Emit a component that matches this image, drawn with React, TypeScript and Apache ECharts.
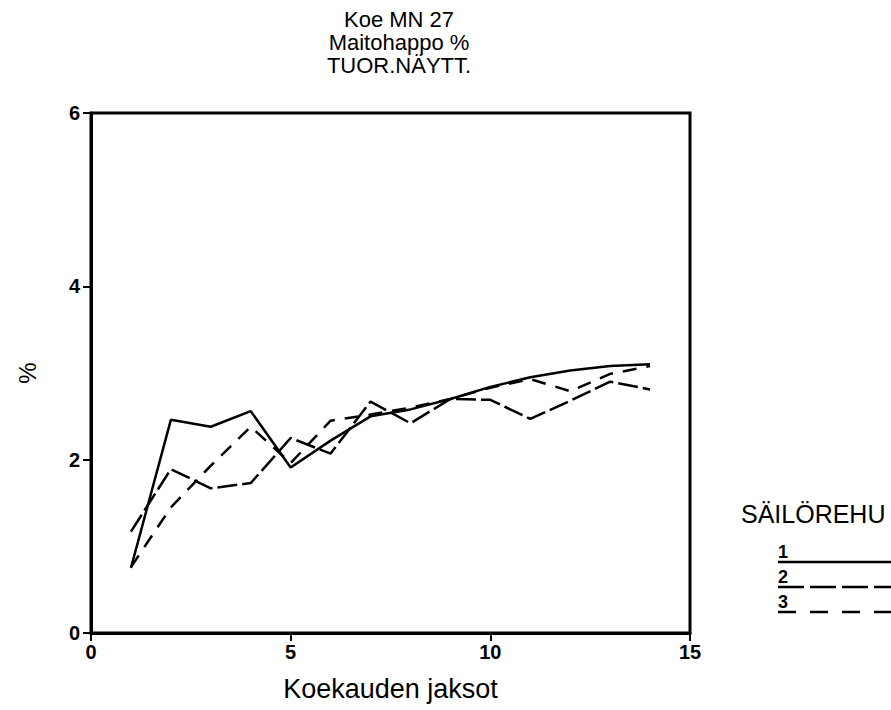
import React, { useEffect, useRef } from "react";
import * as echarts from "echarts";

const periods = [1, 2, 3, 4, 5, 6, 7, 8, 9, 10, 11, 12, 13, 14];
const series1 = [0.75, 2.46, 2.38, 2.56, 1.91, 2.22, 2.5, 2.58, 2.7, 2.84, 2.95, 3.03, 3.08, 3.1];
const series2 = [1.17, 1.89, 1.67, 1.73, 2.25, 2.07, 2.67, 2.42, 2.7, 2.69, 2.47, 2.68, 2.9, 2.81];
const series3 = [0.76, 1.45, 1.93, 2.38, 1.96, 2.45, 2.52, 2.6, 2.7, 2.83, 2.93, 2.79, 2.99, 3.08];
const seriesNames = ["1", "2", "3"];
const titleLines = ["Koe MN 27", "Maitohappo %", "TUOR.NÄYTT."];
const legendTitle = "SÄILÖREHU";
const xAxisName = "Koekauden jaksot";
const yAxisName = "%";

const FONT = "Liberation Sans";
const plotDashes: any[] = ["solid", [20, 5], [14, 10]];
const legendDashes: any[] = [null, [26, 6], [18, 14]];

export default function App() {
  const ref = useRef<HTMLDivElement>(null);
  useEffect(() => {
    if (!ref.current) return;
    const chart = echarts.init(ref.current, null, { renderer: "svg" });
    const allSeries = [series1, series2, series3];
    const legendGraphics: any[] = [
      {
        type: "text",
        left: 741,
        top: 501,
        style: { text: legendTitle, fontFamily: FONT, fontSize: 25, fill: "#000" },
      },
    ];
    seriesNames.forEach((n, i) => {
      const y = 562 + i * 25;
      legendGraphics.push({
        type: "text",
        left: 778,
        top: y - 19,
        style: { text: n, fontFamily: FONT, fontSize: 18, fontWeight: "bold", fill: "#000" },
      });
      legendGraphics.push({
        type: "line",
        shape: { x1: 778, y1: y, x2: 891, y2: y },
        style: { stroke: "#000", lineWidth: 2.5, lineDash: legendDashes[i] },
      });
    });
    chart.setOption({
      animation: false,
      backgroundColor: "#fff",
      title: titleLines.map((t, i) => ({
        text: t,
        left: 394,
        top: 3 + i * 23,
        textAlign: "center",
        textStyle: {
          fontFamily: FONT,
          fontSize: 22,
          fontWeight: "normal",
          color: "#000",
          lineHeight: 22,
        },
      })),
      grid: { left: 91, right: 201, top: 113, bottom: 77, show: true, borderColor: "#000", borderWidth: 3 },
      xAxis: {
        type: "value",
        min: 0,
        max: 15,
        interval: 5,
        name: xAxisName,
        nameLocation: "middle",
        nameGap: 42,
        nameTextStyle: { fontFamily: FONT, fontSize: 27, color: "#000" },
        axisLine: { show: true, lineStyle: { color: "#000", width: 3 } },
        axisTick: { show: true, inside: false, length: 8, lineStyle: { color: "#000", width: 2 } },
        axisLabel: { fontFamily: FONT, fontSize: 20, fontWeight: "bold", color: "#000", margin: 9 },
        splitLine: { show: false },
      },
      yAxis: {
        type: "value",
        min: 0,
        max: 6,
        interval: 2,
        name: yAxisName,
        nameLocation: "middle",
        nameRotate: 90,
        nameGap: 52,
        nameTextStyle: { fontFamily: FONT, fontSize: 24, color: "#000" },
        axisLine: { show: true, lineStyle: { color: "#000", width: 3 } },
        axisTick: { show: true, inside: false, length: 8, lineStyle: { color: "#000", width: 2 } },
        axisLabel: { fontFamily: FONT, fontSize: 20, fontWeight: "bold", color: "#000", margin: 11 },
        splitLine: { show: false },
      },
      series: allSeries.map((vals, i) => ({
        type: "line",
        name: seriesNames[i],
        data: periods.map((p, k) => [p, vals[k]]),
        showSymbol: false,
        symbol: "none",
        lineStyle: { color: "#000", width: 2.5, type: plotDashes[i] },
      })),
      graphic: legendGraphics,
    });
    return () => chart.dispose();
  }, []);
  return <div ref={ref} style={{ width: 891, height: 710, position: "absolute", left: 0, top: 0 }} />;
}
